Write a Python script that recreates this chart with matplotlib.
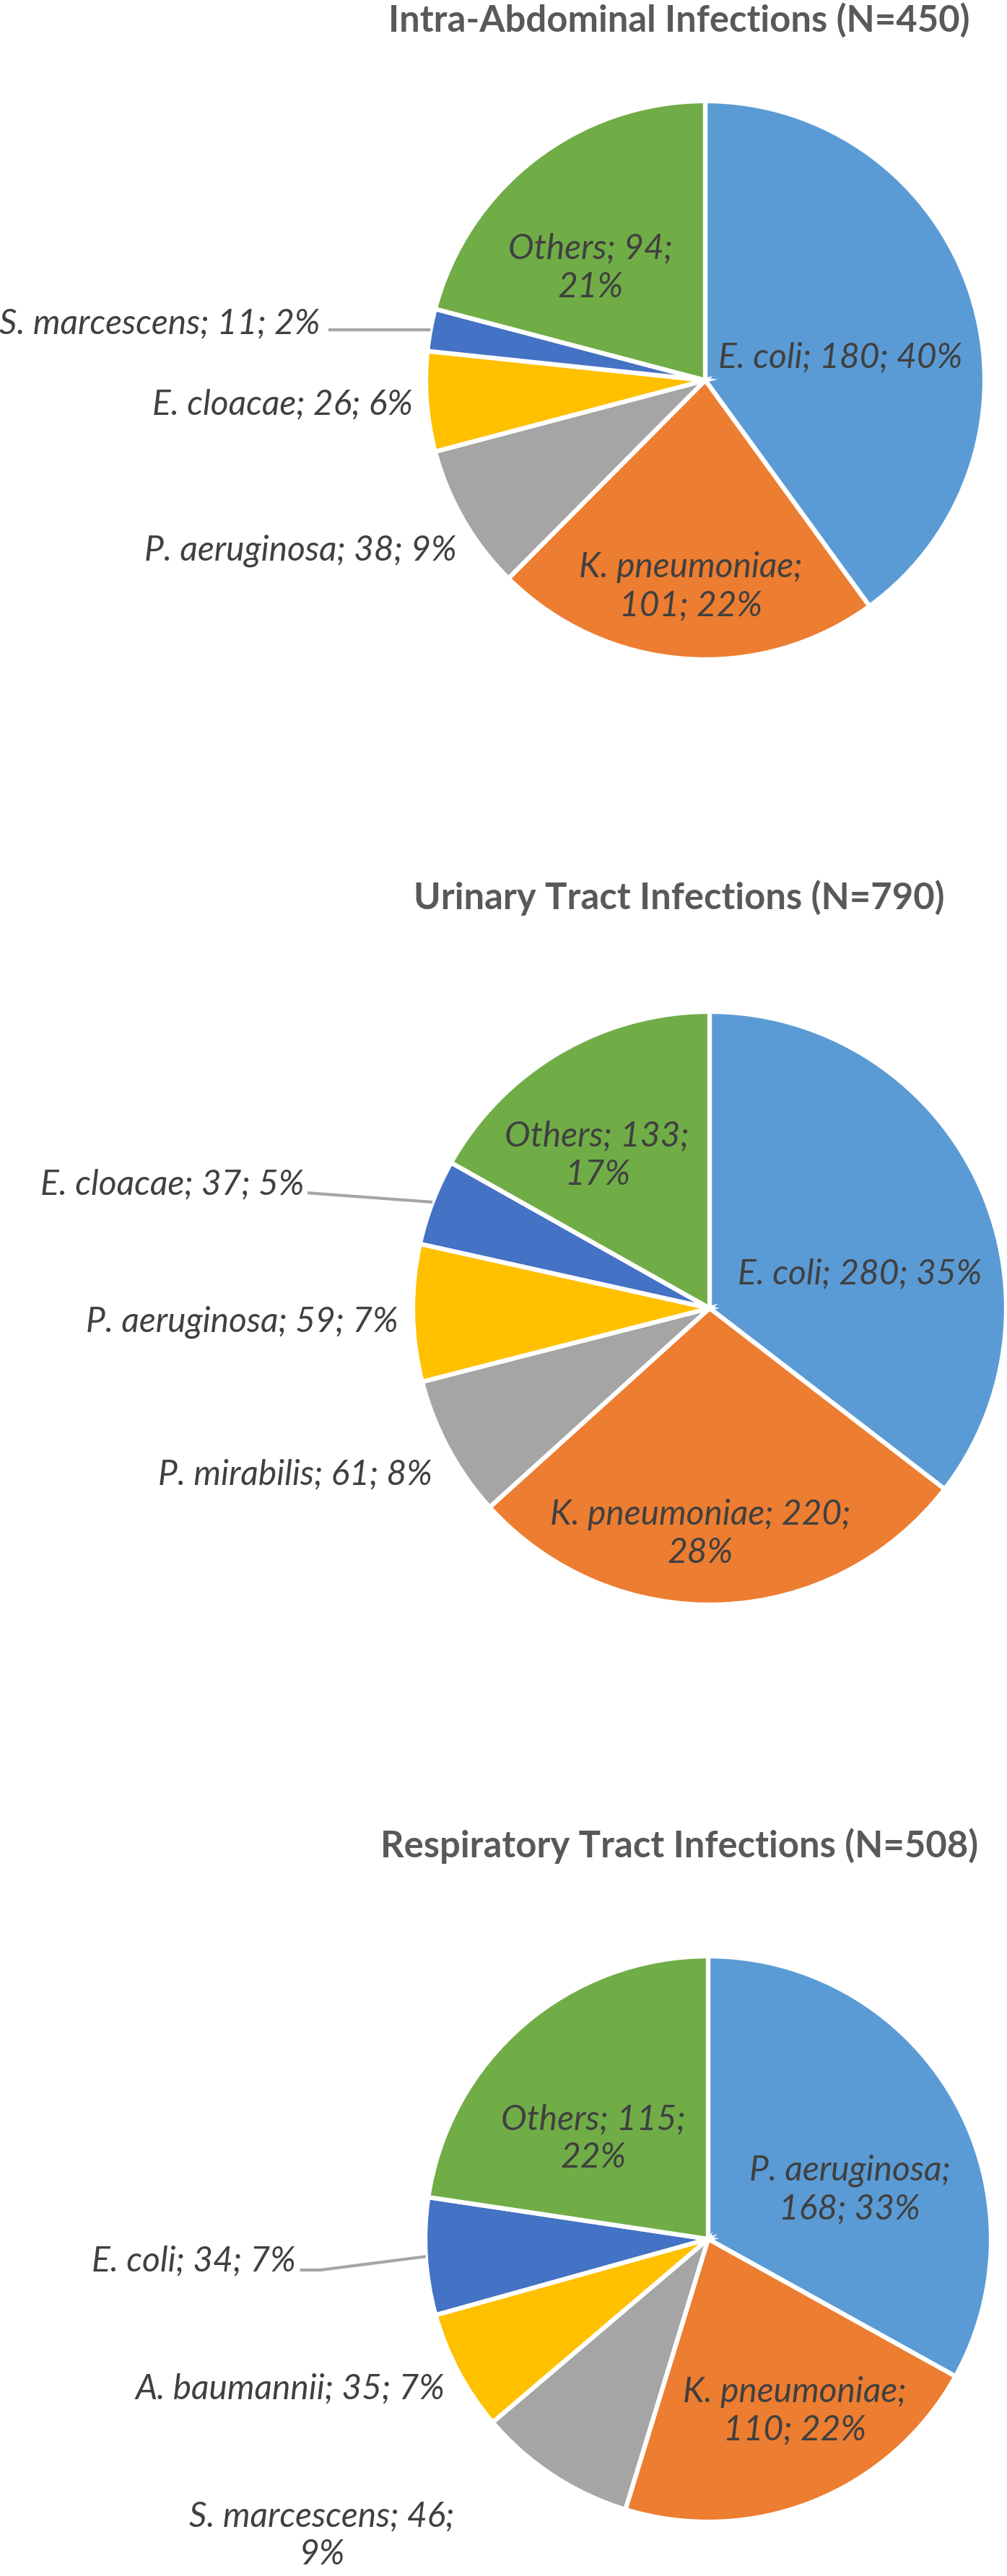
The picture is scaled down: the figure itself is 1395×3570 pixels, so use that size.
import matplotlib.pyplot as plt
import numpy as np

plt.rcParams['font.family'] = ['Lato', 'DejaVu Sans']

# data for the three charts
titles = ['Intra-Abdominal Infections (N=450)',
          'Urinary Tract Infections (N=790)',
          'Respiratory Tract Infections (N=508)']

iai_names = ['E. coli', 'K. pneumoniae', 'P. aeruginosa', 'E. cloacae', 'S. marcescens', 'Others']
iai_counts = [180, 101, 38, 26, 11, 94]
iai_pcts = [40, 22, 9, 6, 2, 21]

uti_names = ['E. coli', 'K. pneumoniae', 'P. mirabilis', 'P. aeruginosa', 'E. cloacae', 'Others']
uti_counts = [280, 220, 61, 59, 37, 133]
uti_pcts = [35, 28, 8, 7, 5, 17]

rti_names = ['P. aeruginosa', 'K. pneumoniae', 'S. marcescens', 'A. baumannii', 'E. coli', 'Others']
rti_counts = [168, 110, 46, 35, 34, 115]
rti_pcts = [33, 22, 9, 7, 7, 22]

colors = ['#5B9BD5', '#ED7D31', '#A5A5A5', '#FFC000', '#4472C4', '#70AD47']

# layout (pixels of the 1395x3570 figure)
W, H = 1395, 3570
title_y = [28, 1244, 2558]
title_x = 941
pie_center = [(977, 527), (983, 1813), (981, 3103)]
pie_radius = [387, 411, 392]

# label place per slice: (angle deg, distance in radii, ha, line break after name or count)
label_layout = [
    [(9.5, 0.49, 'center', None), (-94, 0.74, 'center', 'name'), (-145.6, 1.08, 'right', None),
     (-175.3, 1.05, 'right', None), (171.6, 1.395, 'right', None), (135.5, 0.575, 'center', 'count')],
    [(12.8, 0.52, 'center', None), (-92.4, 0.76, 'center', 'count'), (-149, 1.09, 'right', None),
     (-177.4, 1.05, 'right', None), (163, 1.43, 'right', None), (126.3, 0.64, 'center', 'count')],
    [(19.2, 0.53, 'center', 'name'), (-63.3, 0.68, 'center', 'name'), (-142.5, 1.72, 'center', 'count'),
     (-150.3, 1.07, 'right', None), (-177, 1.46, 'right', None), (138.8, 0.54, 'center', 'count')],
]
# leader lines: slice index, start offset from label anchor (px), optional elbow length (px)
leaders = [(4, (12, -9), 0), (4, (5, -12), 0), (4, (6, -13), 28)]

fig = plt.figure(figsize=(W / 100, H / 100), dpi=100)

data = [(iai_names, iai_counts, iai_pcts), (uti_names, uti_counts, uti_pcts),
        (rti_names, rti_counts, rti_pcts)]

for k, (names, counts, pcts) in enumerate(data):
    cx, cy = pie_center[k]
    R = pie_radius[k]
    ax = fig.add_axes([(cx - R) / W, 1 - (cy + R) / H, 2 * R / W, 2 * R / H])
    wedges, _ = ax.pie(counts, colors=colors, startangle=90, counterclock=False, radius=1,
                       wedgeprops=dict(edgecolor='white', linewidth=4.5))
    ax.set_xlim(-1, 1)
    ax.set_ylim(-1, 1)
    ax.set_aspect('equal')
    ax.axis('off')

    for i, name in enumerate(names):
        ang, dist, ha, brk = label_layout[k][i]
        if brk == 'name':
            txt = f'{name};\n{counts[i]}; {pcts[i]}%'
        elif brk == 'count':
            txt = f'{name}; {counts[i]};\n{pcts[i]}%'
        else:
            txt = f'{name}; {counts[i]}; {pcts[i]}%'
        a = np.radians(ang)
        ax.text(dist * np.cos(a), dist * np.sin(a), txt, ha=ha, va='center',
                fontsize=34.5, fontstyle='italic', color='#404040', linespacing=1.25,
                multialignment='center', clip_on=False)

    # leader line from label to its slice
    idx, (ox, oy), elbow = leaders[k]
    ang, dist, ha, brk = label_layout[k][idx]
    a = np.radians(ang)
    x0 = dist * np.cos(a) + ox / R
    y0 = dist * np.sin(a) + oy / R
    w = wedges[idx]
    mid = np.radians((w.theta1 + w.theta2) / 2)
    x1, y1 = 1.0 * np.cos(mid), 1.0 * np.sin(mid)
    xs, ys = [x0], [y0]
    if elbow:
        xs.append(x0 + elbow / R)
        ys.append(y0)
    xs.append(x1)
    ys.append(y1)
    ax.plot(xs, ys, color='#A6A6A6', linewidth=3, clip_on=False, solid_capstyle='butt')

    fig.text(title_x / W, 1 - title_y[k] / H, titles[k], ha='center', va='center',
             fontsize=36.5, fontweight='bold', color='#595959')

fig.savefig('out.png', dpi=100)
